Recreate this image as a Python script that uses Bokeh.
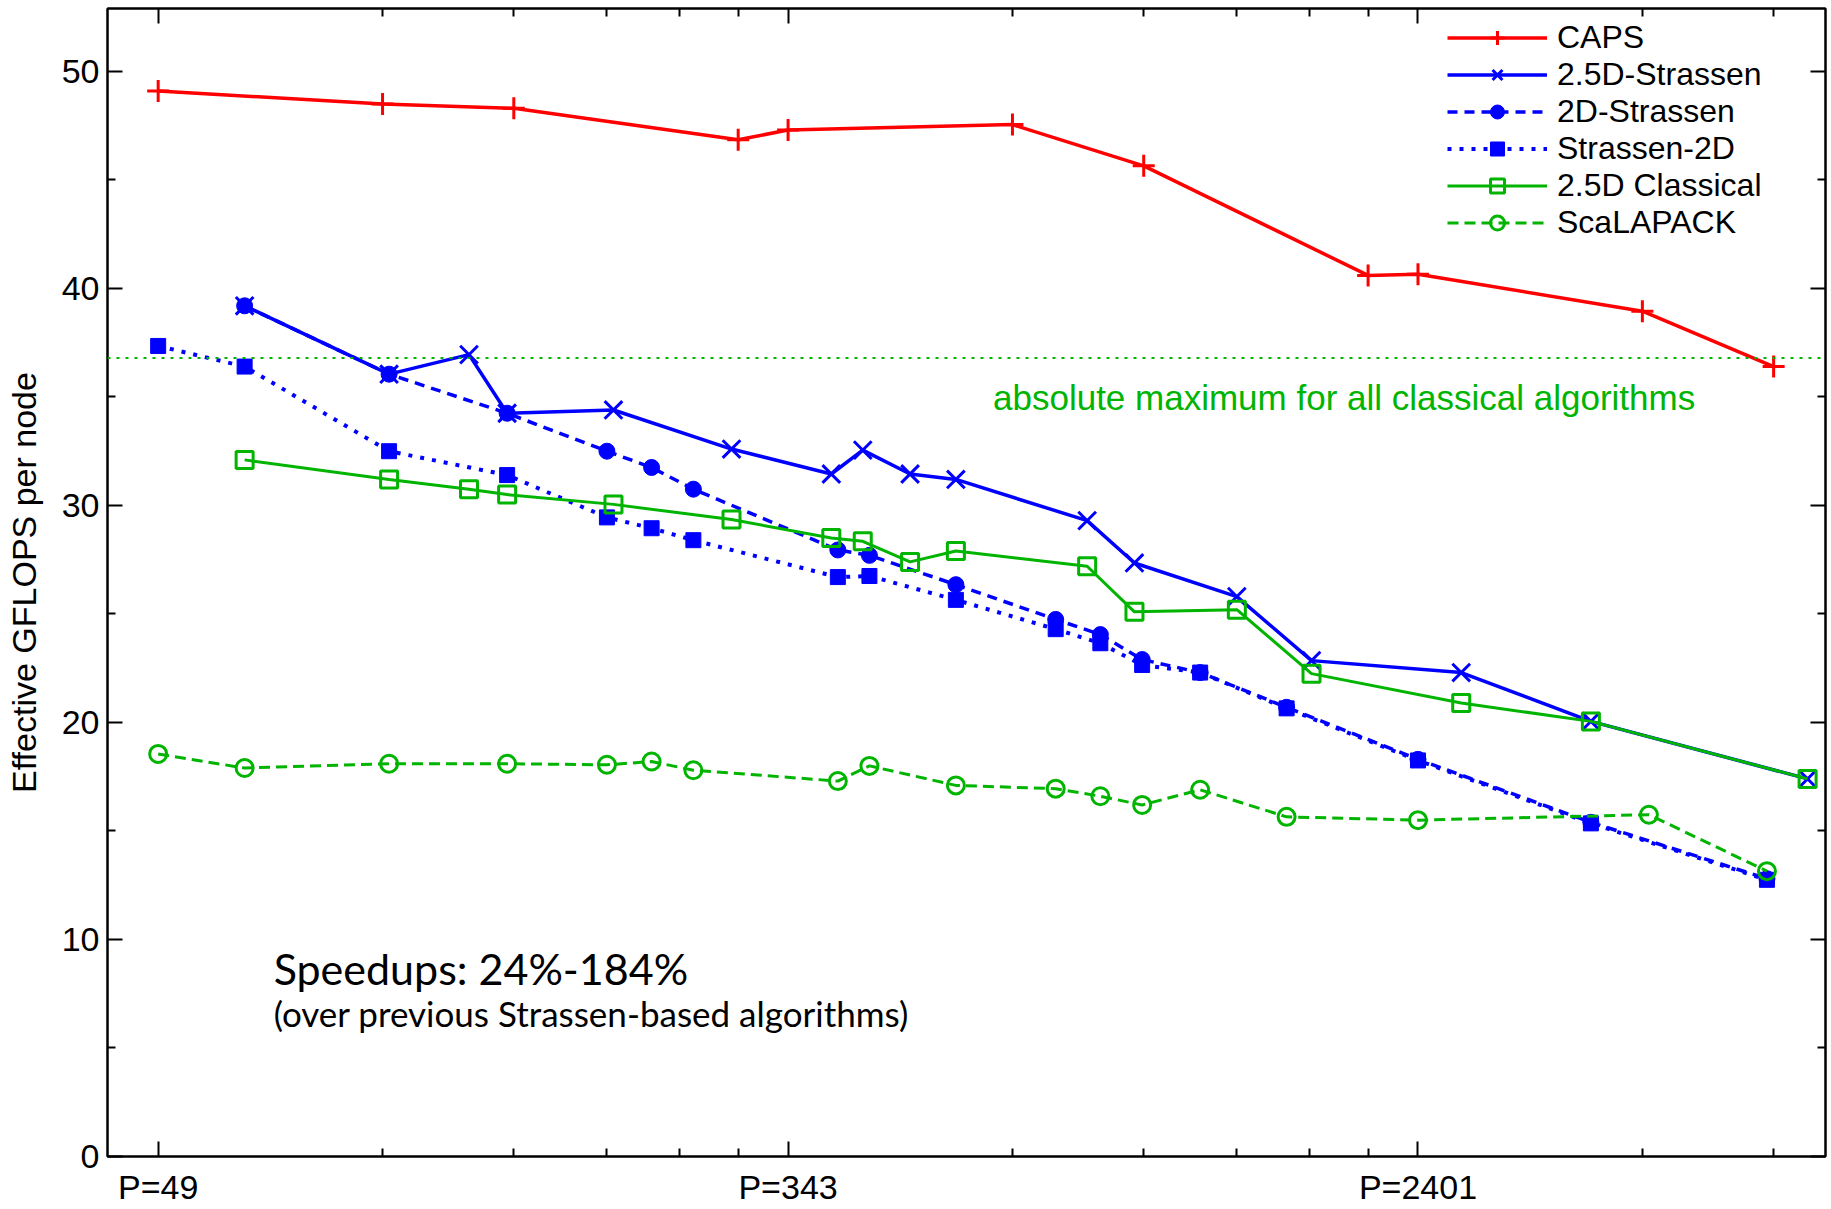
from bokeh.plotting import figure
from bokeh.models import (FixedTicker, LogAxis, LinearAxis, Range1d, Span, Label,
                          Legend, LegendItem)
from bokeh.embed import file_html
from bokeh.resources import INLINE

# ---------------- data ----------------
caps_p = [49, 98, 147, 294, 343, 686, 1029, 2058, 2401, 4802, 7203]
caps_gflops = [49.1, 48.5, 48.3, 46.85, 47.3, 47.55, 45.65, 40.6, 40.65, 38.95, 36.4]

s25_p = [64, 100, 128, 144, 200, 288, 392, 432, 500, 576, 864, 1000, 1372, 1728, 2744, 4096, 8000]
s25_gflops = [39.2, 36.05, 36.95, 34.25, 34.4, 32.6, 31.45, 32.55, 31.45, 31.2, 29.3, 27.35,
              25.8, 22.85, 22.3, 20.05, 17.4]

s2d_p = [64, 100, 144, 196, 225, 256, 400, 441, 576, 784, 900, 1024, 1225, 1600, 2401, 4096, 7056]
s2d_gflops = [39.2, 36.05, 34.25, 32.5, 31.75, 30.75, 27.95, 27.7, 26.35, 24.75, 24.05, 22.9,
              22.3, 20.7, 18.3, 15.4, 12.8]

str2d_p = [49, 64, 100, 144, 196, 225, 256, 400, 441, 576, 784, 900, 1024, 1225, 1600, 2401, 4096, 7056]
str2d_gflops = [37.35, 36.4, 32.5, 31.4, 29.45, 28.95, 28.4, 26.7, 26.75, 25.65, 24.3, 23.65,
                22.65, 22.3, 20.65, 18.25, 15.35, 12.75]

c25_p = [64, 100, 128, 144, 200, 288, 392, 432, 500, 576, 864, 1000, 1372, 1728, 2744, 4096, 8000]
c25_gflops = [32.1, 31.2, 30.75, 30.5, 30.05, 29.35, 28.5, 28.35, 27.4, 27.9, 27.2, 25.1,
              25.2, 22.25, 20.9, 20.05, 17.4]

scal_p = [49, 64, 100, 144, 196, 225, 256, 400, 441, 576, 784, 900, 1024, 1225, 1600, 2401, 4900, 7056]
scal_gflops = [18.55, 17.9, 18.1, 18.1, 18.05, 18.2, 17.8, 17.3, 18.0, 17.1, 16.95, 16.6,
               16.2, 16.9, 15.65, 15.5, 15.75, 13.15]

classical_max = 36.8

x_major = [49, 343, 2401]
x_minor = [98, 147, 196, 245, 294, 686, 1029, 1372, 1715, 2058, 4802, 7203]
x_labels = {49: "P=49", 343: "P=343", 2401: "P=2401"}
y_major = [0, 10, 20, 30, 40, 50]
y_minor = [5, 15, 25, 35, 45]

series_names = ["CAPS", "2.5D-Strassen", "2D-Strassen", "Strassen-2D", "2.5D Classical", "ScaLAPACK"]
y_title = "Effective GFLOPS per node"
max_text = "absolute maximum for all classical algorithms"
speedup_text = "Speedups: 24%-184%"
speedup_sub = "(over previous Strassen-based algorithms)"

# ---------------- styling ----------------
RED = "#ff0000"
BLUE = "#0000ff"
GREEN = "#00b400"
FONT = "Liberation Sans"

p = figure(x_axis_type="log", x_range=Range1d(41.9, 8455), y_range=Range1d(0, 52.9),
           frame_width=1718, frame_height=1148,
           min_border_left=107, min_border_right=4, min_border_top=8, min_border_bottom=50,
           output_backend="svg", toolbar_location=None)
p.xgrid.visible = False
p.ygrid.visible = False
p.outline_line_color = "black"
p.outline_line_width = 2
p.background_fill_color = "white"
p.border_fill_color = "white"

xticker = FixedTicker(ticks=x_major, minor_ticks=x_minor)
yticker = FixedTicker(ticks=y_major, minor_ticks=y_minor)


def style_axis(ax, ticks, show_labels):
    ax.axis_line_width = 2
    ax.axis_line_color = "black"
    ax.major_tick_in = 15
    ax.major_tick_out = 0
    ax.minor_tick_in = 8
    ax.minor_tick_out = 0
    ax.major_tick_line_width = 2
    ax.minor_tick_line_width = 2
    ax.major_tick_line_color = "black"
    ax.minor_tick_line_color = "black"
    if show_labels:
        ax.major_label_text_font = FONT
        ax.major_label_text_font_size = "34px"
        ax.major_label_text_color = "black"
    else:
        # mirrored axis: ticks only, no labels
        ax.major_label_overrides = {t: "" for t in ticks}
        ax.major_label_text_font_size = "1px"
        ax.major_label_standoff = 0


xa = p.xaxis[0]
xa.ticker = xticker
xa.major_label_overrides = x_labels
style_axis(xa, x_major, True)
xa.major_label_standoff = 11

ya = p.yaxis[0]
ya.ticker = yticker
style_axis(ya, y_major, True)
ya.major_label_standoff = 8
ya.axis_label = y_title
ya.axis_label_text_font = FONT
ya.axis_label_text_font_size = "34px"
ya.axis_label_text_font_style = "normal"
ya.axis_label_text_color = "black"
ya.axis_label_standoff = 16

top = LogAxis(ticker=xticker)
style_axis(top, x_major, False)
p.add_layout(top, "above")
right = LinearAxis(ticker=yticker)
style_axis(right, y_major, False)
p.add_layout(right, "right")

# horizontal bound for classical algorithms
p.add_layout(Span(location=classical_max, dimension="width", line_color=GREEN,
                  line_width=2, line_dash="3 6"))

items = []
# CAPS
l = p.line(caps_p, caps_gflops, line_color=RED, line_width=3.5)
m = p.scatter(caps_p, caps_gflops, marker="cross", size=22, line_color=RED, line_width=3)
items.append(LegendItem(label=series_names[0], renderers=[l, m]))
# 2.5D-Strassen
l = p.line(s25_p, s25_gflops, line_color=BLUE, line_width=3.5)
m = p.scatter(s25_p, s25_gflops, marker="x", size=25, line_color=BLUE, line_width=3)
items.append(LegendItem(label=series_names[1], renderers=[l, m]))
# 2D-Strassen
l = p.line(s2d_p, s2d_gflops, line_color=BLUE, line_width=3.5, line_dash="10 7")
m = p.scatter(s2d_p, s2d_gflops, marker="circle", size=16, line_color=BLUE, fill_color=BLUE)
items.append(LegendItem(label=series_names[2], renderers=[l, m]))
# Strassen-2D
l = p.line(str2d_p, str2d_gflops, line_color=BLUE, line_width=4, line_dash="4 8")
m = p.scatter(str2d_p, str2d_gflops, marker="square", size=15, line_color=BLUE, fill_color=BLUE)
items.append(LegendItem(label=series_names[3], renderers=[l, m]))
# 2.5D Classical
l = p.line(c25_p, c25_gflops, line_color=GREEN, line_width=3)
m = p.scatter(c25_p, c25_gflops, marker="square", size=17, line_color=GREEN, fill_color=None,
              line_width=3)
items.append(LegendItem(label=series_names[4], renderers=[l, m]))
# ScaLAPACK
l = p.line(scal_p, scal_gflops, line_color=GREEN, line_width=3, line_dash="11 6")
m = p.scatter(scal_p, scal_gflops, marker="circle", size=17, line_color=GREEN, fill_color=None,
              line_width=3)
items.append(LegendItem(label=series_names[5], renderers=[l, m]))

legend = Legend(items=items, location=(1340, 915), orientation="vertical",
                glyph_width=100, glyph_height=35, label_height=35, spacing=0,
                padding=0, margin=0, label_standoff=10,
                label_text_font=FONT, label_text_font_size="32px", label_text_color="black",
                border_line_color=None, background_fill_alpha=0)
p.add_layout(legend)

p.add_layout(Label(x=646, y=34.97, text=max_text, text_font=FONT, text_font_size="35px",
                   text_color=GREEN, text_baseline="alphabetic"))
p.add_layout(Label(x=70, y=8.67, text=speedup_text, text_font="Lato", text_font_size="43px",
                   text_color="black", text_baseline="alphabetic"))
p.add_layout(Label(x=70, y=6.6, text=speedup_sub, text_font="Lato", text_font_size="35px",
                   text_color="black", text_baseline="alphabetic"))

open("out.html", "w").write(file_html(p, INLINE))
